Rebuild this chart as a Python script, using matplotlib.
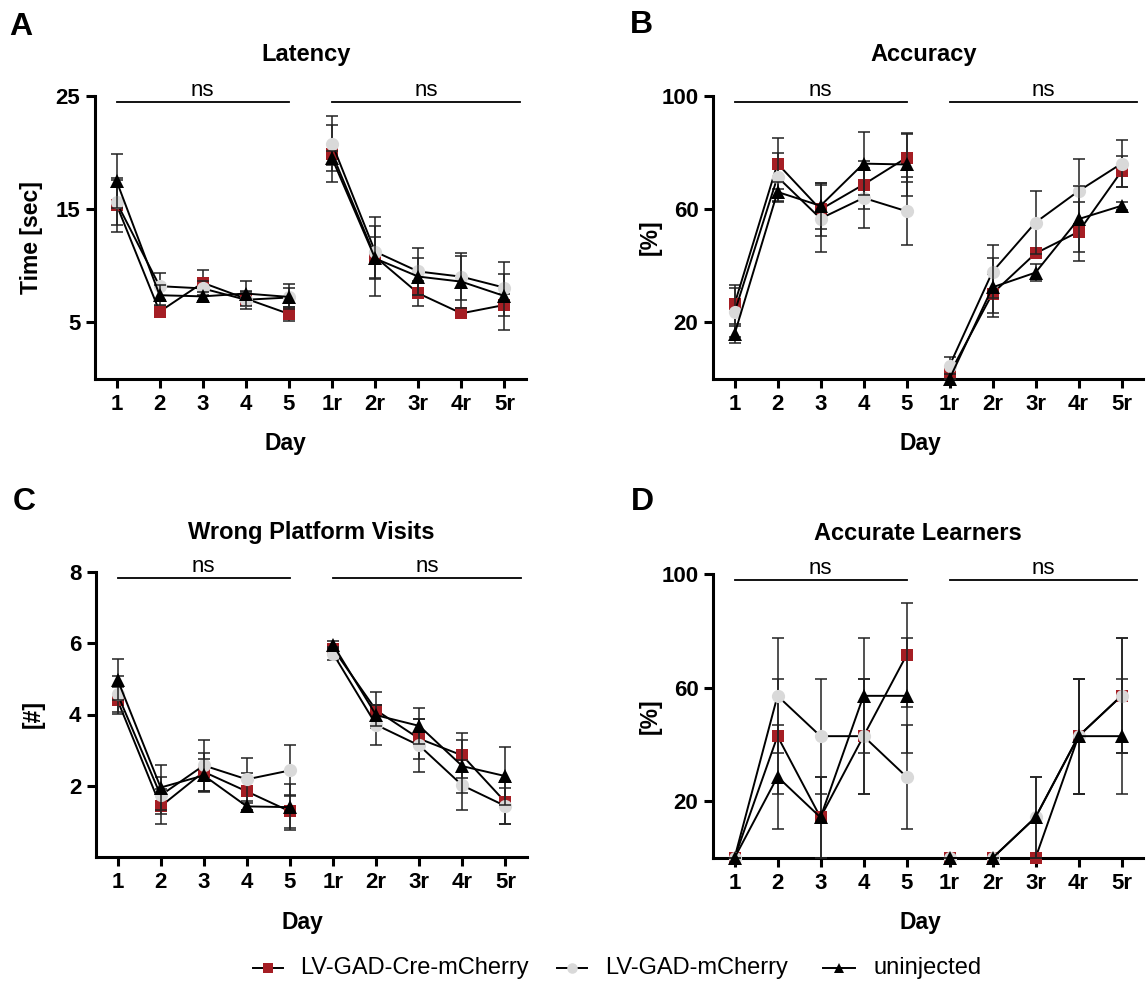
import matplotlib.pyplot as plt
from matplotlib.lines import Line2D
from matplotlib.transforms import blended_transform_factory

plt.rcParams['font.family'] = ['Liberation Sans', 'DejaVu Sans']

days = ['1', '2', '3', '4', '5', '1r', '2r', '3r', '4r', '5r']
groups = ['LV-GAD-Cre-mCherry', 'LV-GAD-mCherry', 'uninjected']

# A - Latency [sec]
lat_cre = [15.4, 5.95, 8.5, 7.1, 5.75, 19.9, 10.8, 7.57, 5.8, 6.54]
lat_mch = [15.6, 8.2, 8.0, 7.0, 7.2, 20.8, 11.25, 9.5, 9.04, 8.07]
lat_uni = [17.5, 7.4, 7.3, 7.55, 7.25, 19.5, 10.65, 9.05, 8.6, 7.33]
lat_cre_err = [2.4, 0.5, 1.1, 0.6, 0.6, 2.5, 3.5, 1.1, 0.3, 1.0]
lat_mch_err = [2.0, 1.2, 0.7, 0.8, 0.8, 2.4, 2.3, 2.1, 2.1, 1.2]
lat_uni_err = [2.35, 0.9, 0.4, 1.1, 1.1, 0.6, 1.85, 1.6, 2.3, 3.0]

# B - Accuracy [%]
acc_cre = [26.4, 76.1, 59.9, 68.7, 78.2, 1.8, 30.2, 44.4, 52.0, 73.4]
acc_mch = [23.5, 71.4, 56.7, 64.0, 59.3, 4.7, 37.9, 55.3, 66.4, 76.1]
acc_uni = [15.8, 66.1, 61.2, 76.1, 75.8, 0.0, 32.4, 37.6, 56.5, 61.2]
acc_cre_err = [6.8, 8.9, 9.4, 8.5, 8.5, 1.8, 7.0, 1.5, 10.4, 5.5]
acc_mch_err = [8.5, 8.6, 11.7, 10.6, 12.0, 2.9, 9.4, 11.1, 11.5, 8.3]
acc_uni_err = [3.0, 3.5, 8.1, 11.2, 11.0, 0.0, 10.5, 3.0, 11.7, 1.4]

# C - Wrong platform visits [#]
wpv_cre = [4.40, 1.42, 2.39, 1.84, 1.28, 5.85, 4.12, 3.32, 2.85, 1.54]
wpv_mch = [4.57, 1.73, 2.57, 2.18, 2.43, 5.71, 3.71, 3.13, 2.01, 1.43]
wpv_uni = [4.98, 1.95, 2.29, 1.42, 1.40, 5.96, 3.98, 3.68, 2.55, 2.27]
wpv_cre_err = [0.38, 0.5, 0.53, 0.53, 0.47, 0.1, 0.5, 0.56, 0.64, 0.6]
wpv_mch_err = [0.5, 0.52, 0.72, 0.6, 0.72, 0.18, 0.56, 0.73, 0.7, 0.5]
wpv_uni_err = [0.57, 0.62, 0.47, 0.1, 0.65, 0.1, 0.3, 0.5, 0.74, 0.82]

# D - Accurate learners [%]
lrn_cre = [0, 42.9, 14.3, 42.9, 71.4, 0, 0, 0, 42.9, 57.1]
lrn_mch = [0, 57.1, 42.9, 42.9, 28.6, 0, 0, 14.3, 42.9, 57.1]
lrn_uni = [0, 28.6, 14.3, 57.1, 57.1, 0, 0, 14.3, 42.9, 42.9]
lrn_cre_err = [0, 20.2, 14.3, 20.2, 18.4, 0, 0, 0, 20.2, 20.2]
lrn_mch_err = [0, 20.2, 20.2, 20.2, 18.4, 0, 0, 14.3, 20.2, 20.2]
lrn_uni_err = [0, 18.4, 14.3, 20.2, 20.2, 0, 0, 14.3, 20.2, 20.2]

colors = ['#A51E24', '#D9D9D9', 'black']
markers = ['s', 'o', '^']
msizes = [9.0, 9.5, 9.5]

W, H = 1146, 981
fig = plt.figure(figsize=(W / 100, H / 100), dpi=100)


def draw_panel(rect, series, errors, ylim, yticks, ylabel, title, title_xy,
               letter, letter_xy, day_x):
    ax = fig.add_axes(rect)
    x = list(range(len(days)))
    for i, (vals, err) in enumerate(zip(series, errors)):
        z = 3 + i
        ax.errorbar(x, vals, yerr=err, fmt='none', ecolor='#222222',
                    elinewidth=1.1, capsize=4.6, capthick=1.1, zorder=z,
                    clip_on=False)
        for seg in (slice(0, 5), slice(5, 10)):
            ax.plot(x[seg], vals[seg], color='black', lw=1.4, zorder=z,
                    clip_on=False)
        ax.plot(x, vals, linestyle='none', marker=markers[i],
                markersize=msizes[i], color=colors[i], markeredgewidth=0,
                zorder=z + 0.5, clip_on=False)

    ax.set_xlim(-0.5, 9.5)
    ax.set_ylim(*ylim)
    ax.set_yticks(yticks)
    ax.set_xticks(x)
    ax.set_xticklabels(days)
    for s in ('top', 'right'):
        ax.spines[s].set_visible(False)
    for s in ('left', 'bottom'):
        ax.spines[s].set_linewidth(2.2)
    ax.tick_params(direction='out', length=6.5, width=2.2, labelsize=16,
                   pad=4)
    for lab in ax.get_xticklabels() + ax.get_yticklabels():
        lab.set_fontweight('bold')

    ax.set_ylabel(ylabel, fontsize=16.5, fontweight='bold')
    ax.yaxis.set_label_coords(-0.12, 0.5)
    ax.set_xlabel('Day', fontsize=16.5, fontweight='bold')
    ax.xaxis.set_label_coords(day_x, -0.188)

    # significance bars
    tr = blended_transform_factory(ax.transData, ax.transAxes)
    for x0, x1 in ((0, 4), (5, 9.36)):
        ax.plot([x0, x1], [0.979, 0.979], color='black', lw=1.3,
                transform=tr, clip_on=False)
        ax.text((x0 + x1) / 2, 1.018, 'ns', transform=tr, ha='center',
                va='center', fontsize=16)

    fig.text(title_xy[0] / W, 1 - title_xy[1] / H, title, ha='center',
             va='center', fontsize=17, fontweight='bold')
    fig.text(letter_xy[0] / W, 1 - letter_xy[1] / H, letter, ha='center',
             va='center', fontsize=23, fontweight='bold')
    return ax


draw_panel([95 / W, 1 - 379 / H, 431 / W, 283 / H],
           [lat_cre, lat_mch, lat_uni],
           [lat_cre_err, lat_mch_err, lat_uni_err],
           (0, 25), [5, 15, 25], 'Time [sec]', 'Latency', (306, 55),
           'A', (21, 27), 0.443)
draw_panel([713 / W, 1 - 379 / H, 430 / W, 283 / H],
           [acc_cre, acc_mch, acc_uni],
           [acc_cre_err, acc_mch_err, acc_uni_err],
           (0, 100), [20, 60, 100], '[%]', 'Accuracy', (924, 55),
           'B', (641, 25), 0.483)
draw_panel([96 / W, 1 - 857 / H, 431 / W, 285 / H],
           [wpv_cre, wpv_mch, wpv_uni],
           [wpv_cre_err, wpv_mch_err, wpv_uni_err],
           (0, 8), [2, 4, 6, 8], '[#]', 'Wrong Platform Visits', (311, 532),
           'C', (24, 502), 0.478)
draw_panel([713 / W, 1 - 858 / H, 430 / W, 284 / H],
           [lrn_cre, lrn_mch, lrn_uni],
           [lrn_cre_err, lrn_mch_err, lrn_uni_err],
           (0, 100), [20, 60, 100], '[%]', 'Accurate Learners', (918, 533),
           'D', (642, 502), 0.483)

# legend drawn by hand: handle span and text start, in pixels
leg_y = 1 - 968 / H
leg_handles = [(253, 283), (557, 587), (823, 855)]
leg_text_x = [300, 605, 873]
for i, name in enumerate(groups):
    h0, h1 = leg_handles[i]
    fig.add_artist(Line2D([h0 / W, h1 / W], [leg_y, leg_y], color='black',
                          lw=1.4, transform=fig.transFigure))
    fig.add_artist(Line2D([(h0 + h1) / 2 / W], [leg_y], linestyle='none',
                          marker=markers[i], markersize=msizes[i] * 0.8,
                          color=colors[i], markeredgewidth=0,
                          transform=fig.transFigure))
    fig.text(leg_text_x[i] / W, leg_y, name, ha='left', va='center',
             fontsize=17)

fig.savefig('out.png', dpi=100)
